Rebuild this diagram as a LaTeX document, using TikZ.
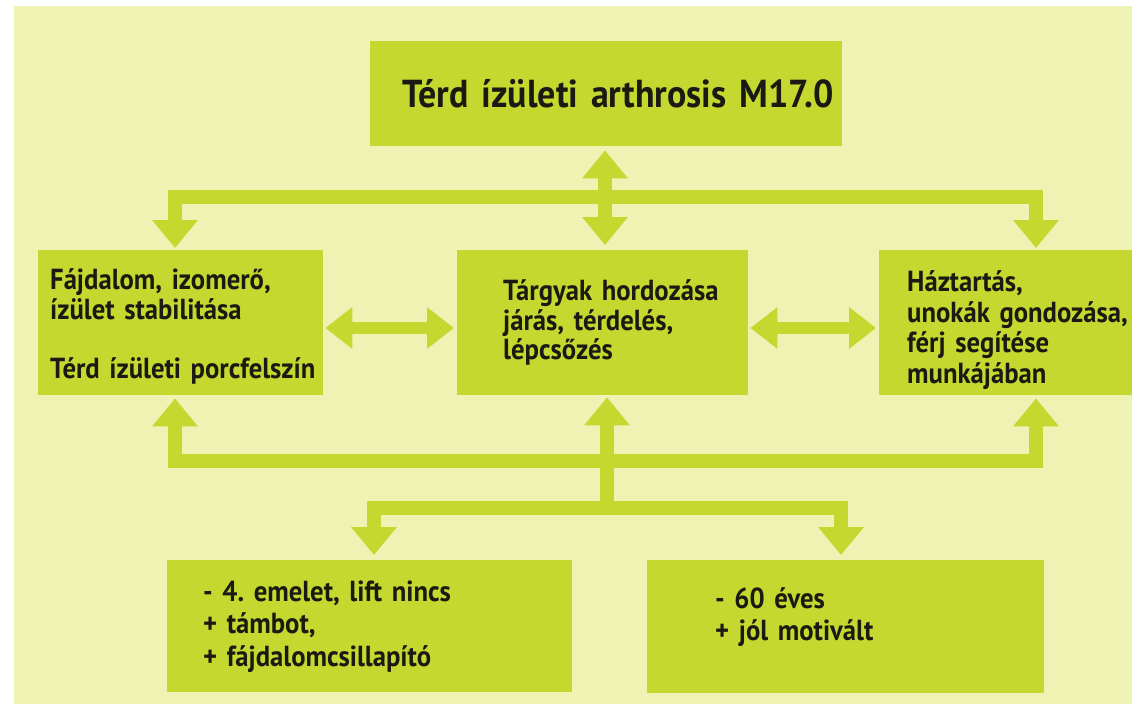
\documentclass[tikz,border=0pt]{standalone}
\usepackage{fontspec}
\newfontfamily\labelfont{PT Sans}[FakeStretch=0.92, WordSpace=0.7]
\usetikzlibrary{arrows.meta}

\definecolor{bgpale}{RGB}{238,242,178}
\definecolor{boxgreen}{RGB}{196,216,48}
\definecolor{inkdark}{RGB}{26,26,18}

\tikzset{
  panel/.style={fill=boxgreen, text=inkdark, anchor=north west, inner ysep=0pt,
    align=left, font=\labelfont\bfseries\fontsize{29}{29.5}\selectfont,
    execute at begin node={\hyphenpenalty=10000\exhyphenpenalty=10000\hfuzz=\maxdimen\hbadness=10000}},
  lowpanel/.style={panel, font=\labelfont\bfseries\fontsize{29}{32.5}\selectfont},
  link/.style={draw=boxgreen, line width=14pt, line join=miter, line cap=butt,
    >={Triangle[width=44pt,length=28pt]}},
  sidelink/.style={draw=boxgreen, line width=12pt, line cap=butt,
    >={Triangle[width=40pt,length=27pt]}},
}

\begin{document}
\begin{tikzpicture}[x=1pt,y=-1pt]
  \useasboundingbox (0,0) rectangle (1132,704);
  \fill[white] (0,0) rectangle (1132,704);
  \fill[bgpale] (14,6) rectangle (1132,704);

  % boxes (ties keep every printed line on one line)
  \node[panel, text width=408pt, inner xsep=32pt, minimum height=105pt,
        font=\labelfont\bfseries\fontsize{39}{44}\selectfont] (top) at (370,41)
        {Térd~ízületi~arthrosis~M17.0};
  \node[panel, text width=261pt, inner xsep=12pt, minimum height=145pt,
        font=\labelfont\bfseries\fontsize{29}{30}\selectfont] (left) at (38,250)
        {\rule{0pt}{28pt}Fájdalom,~izomerő,\\ízület~stabilitása\\[29pt]Térd~ízületi~porcfelszín};
  \node[panel, text width=199pt, inner xsep=46pt, minimum height=145pt] (mid) at (457,250)
        {Tárgyak~hordozása\\járás,~térdelés,\\lépcsőzés};
  \node[panel, text width=197pt, inner xsep=28pt, minimum height=145pt,
        font=\labelfont\bfseries\fontsize{29}{30.5}\selectfont] (right) at (879,250)
        {\rule{0pt}{36pt}Háztartás,\\unokák~gondozása,\\férj~segítése\\munkájában};
  \node[lowpanel, text width=333pt, inner xsep=36pt, minimum height=132pt] (bl) at (167,560)
        {-~4.~emelet,~lift~nincs\\+~támbot,\\+~fájdalomcsillapító};
  \node[lowpanel, text width=261pt, inner xsep=68pt, minimum height=133pt] (br) at (647,560)
        {\rule{0pt}{28pt}-~60~éves\\+~jól~motivált\\\mbox{}};

  % guide positions of the connectors
  \coordinate (cx) at (605,0);
  \coordinate (lx) at (175,0);
  \coordinate (rx) at (1036,0);
  \coordinate (mx) at (607,0);
  \coordinate (blx) at (374,0);
  \coordinate (brx) at (841,0);
  \coordinate (forkTop) at (1036,197);
  \coordinate (forkMid) at (1036,461);
  \coordinate (forkLow) at (841,508);
  \coordinate (lowJoin) at (607,508);
  \coordinate (rowY) at (0,328);

  % top: main box to the middle row
  \draw[link,<->,shorten <=4pt,shorten >=5pt] (top.south -| cx) -- (mid.north -| cx);
  \draw[link,<->,shorten <=2pt,shorten >=2pt] (left.north -| lx) |- (forkTop) -- (right.north -| rx);

  % middle row side links
  \draw[sidelink,<->,shorten <=2pt,shorten >=3pt] (left.east |- rowY) -- (mid.west |- rowY);
  \draw[sidelink,<->,shorten <=2pt,shorten >=3pt] (mid.east |- rowY) -- (right.west |- rowY);

  % bottom: factors up to the middle row
  \draw[link,<->,shorten <=3pt,shorten >=3pt] (left.south -| lx) |- (forkMid) -- (right.south -| rx);
  \draw[link,->,shorten >=2pt] (lowJoin) -- (mid.south -| mx);
  \draw[link,<->,shorten <=5pt,shorten >=5pt] (bl.north -| blx) |- (forkLow) -- (br.north -| brx);
\end{tikzpicture}
\end{document}
